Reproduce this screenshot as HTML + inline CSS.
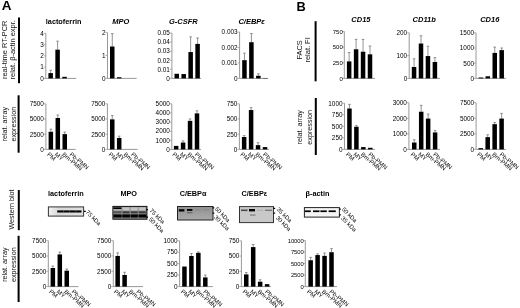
<!DOCTYPE html>
<html><head><meta charset="utf-8"><style>
html,body{margin:0;padding:0;background:#fff;}
body{width:520px;height:308px;overflow:hidden;}
svg{display:block;font-family:"Liberation Sans", sans-serif;}
</style></head><body>
<svg width="520" height="308" viewBox="0 0 520 308" font-family='"Liberation Sans", sans-serif'>
<defs><filter id="soft" x="0" y="0" width="520" height="308" filterUnits="userSpaceOnUse"><feGaussianBlur stdDeviation="0.35"/></filter></defs>
<rect width="520" height="308" fill="#fff"/>
<g filter="url(#soft)">
<rect width="520" height="308" fill="#fff"/>
<text x="1.8" y="10.3" font-size="13.5" font-weight="bold" fill="#000">A</text>
<text x="296.6" y="10.6" font-size="12.8" font-weight="bold" fill="#000">B</text>
<text x="0" y="0" font-size="7.45" fill="#111" text-anchor="middle" transform="translate(7.4 49.8) rotate(-90)">real-time RT-PCR</text>
<text x="0" y="0" font-size="7.45" fill="#111" text-anchor="middle" transform="translate(15.1 49.8) rotate(-90)">relat. β-actin expr.</text>
<rect x="18" y="17.5" width="2" height="65.7" fill="#000"/>
<text x="0" y="0" font-size="7.2" fill="#111" text-anchor="middle" transform="translate(6.6 124.2) rotate(-90)">relat. array</text>
<text x="0" y="0" font-size="7.2" fill="#111" text-anchor="middle" transform="translate(15.8 124.2) rotate(-90)">expression</text>
<rect x="17.6" y="95.3" width="2" height="57.4" fill="#000"/>
<text x="0" y="0" font-size="7.2" fill="#111" text-anchor="middle" transform="translate(13.6 209.5) rotate(-90)">Western blot</text>
<rect x="17.8" y="190" width="2" height="40.2" fill="#000"/>
<text x="0" y="0" font-size="7.2" fill="#111" text-anchor="middle" transform="translate(6.7 264.7) rotate(-90)">relat. array</text>
<text x="0" y="0" font-size="7.2" fill="#111" text-anchor="middle" transform="translate(15.8 264.7) rotate(-90)">expression</text>
<rect x="17.6" y="235.8" width="2" height="66.2" fill="#000"/>
<text x="0" y="0" font-size="7.45" fill="#111" text-anchor="middle" transform="translate(301.9 49.9) rotate(-90)">FACS</text>
<text x="0" y="0" font-size="7.45" fill="#111" text-anchor="middle" transform="translate(309.9 49.9) rotate(-90)">relat. FI</text>
<rect x="314.6" y="21.2" width="2" height="60.1" fill="#000"/>
<text x="0" y="0" font-size="7.2" fill="#111" text-anchor="middle" transform="translate(302.4 127.3) rotate(-90)">relat. array</text>
<text x="0" y="0" font-size="7.2" fill="#111" text-anchor="middle" transform="translate(312.1 127.3) rotate(-90)">expression</text>
<rect x="314.8" y="98" width="2" height="57" fill="#000"/>
<text x="45.8" y="24" font-size="7.3" font-weight="bold" fill="#000">lactoferrin</text>
<text x="112.2" y="24" font-size="7.5" font-weight="bold" font-style="italic" fill="#000">MPO</text>
<text x="169" y="23.8" font-size="7.5" font-weight="bold" font-style="italic" fill="#000">G-CSFR</text>
<text x="238.4" y="24" font-size="7.5" font-weight="bold" font-style="italic" fill="#000">C/EBPε</text>
<text x="351.3" y="22" font-size="7.5" font-weight="bold" font-style="italic" fill="#000">CD15</text>
<text x="412.6" y="22" font-size="7.5" font-weight="bold" font-style="italic" fill="#000">CD11b</text>
<text x="480.2" y="22" font-size="7.5" font-weight="bold" font-style="italic" fill="#000">CD16</text>
<line x1="45.8" y1="33.3" x2="45.8" y2="78.4" stroke="#999" stroke-width="1"/>
<line x1="45.8" y1="78.4" x2="76.2" y2="78.4" stroke="#999" stroke-width="1"/>
<line x1="43.8" y1="78.4" x2="45.8" y2="78.4" stroke="#999" stroke-width="0.8"/>
<text x="43.8" y="80.7" text-anchor="end" font-size="6.4" fill="#000">0</text>
<line x1="43.8" y1="67.12" x2="45.8" y2="67.12" stroke="#999" stroke-width="0.8"/>
<text x="43.8" y="69.42" text-anchor="end" font-size="6.4" fill="#000">1</text>
<line x1="43.8" y1="55.85" x2="45.8" y2="55.85" stroke="#999" stroke-width="0.8"/>
<text x="43.8" y="58.15" text-anchor="end" font-size="6.4" fill="#000">2</text>
<line x1="43.8" y1="44.58" x2="45.8" y2="44.58" stroke="#999" stroke-width="0.8"/>
<text x="43.8" y="46.88" text-anchor="end" font-size="6.4" fill="#000">3</text>
<line x1="43.8" y1="33.3" x2="45.8" y2="33.3" stroke="#999" stroke-width="0.8"/>
<text x="43.8" y="35.6" text-anchor="end" font-size="6.4" fill="#000">4</text>
<line x1="50.65" y1="70.28" x2="50.65" y2="73.1" stroke="#777" stroke-width="0.8"/>
<line x1="49.35" y1="70.28" x2="51.95" y2="70.28" stroke="#777" stroke-width="0.8"/>
<rect x="48.4" y="73.1" width="4.5" height="5.3" fill="#000"/>
<line x1="57.6" y1="41.19" x2="57.6" y2="49.65" stroke="#777" stroke-width="0.8"/>
<line x1="56.3" y1="41.19" x2="58.9" y2="41.19" stroke="#777" stroke-width="0.8"/>
<rect x="55.35" y="49.65" width="4.5" height="28.75" fill="#000"/>
<rect x="62.3" y="76.82" width="4.5" height="1.58" fill="#000"/>
<rect x="69.25" y="78.4" width="4.5" height="0" fill="#000"/>
<line x1="107.5" y1="32.5" x2="107.5" y2="78.4" stroke="#999" stroke-width="1"/>
<line x1="107.5" y1="78.4" x2="136.7" y2="78.4" stroke="#999" stroke-width="1"/>
<line x1="105.5" y1="78.4" x2="107.5" y2="78.4" stroke="#999" stroke-width="0.8"/>
<text x="105.5" y="80.7" text-anchor="end" font-size="6.4" fill="#000">0</text>
<line x1="105.5" y1="55.45" x2="107.5" y2="55.45" stroke="#999" stroke-width="0.8"/>
<text x="105.5" y="57.75" text-anchor="end" font-size="6.4" fill="#000">1</text>
<line x1="105.5" y1="32.5" x2="107.5" y2="32.5" stroke="#999" stroke-width="0.8"/>
<text x="105.5" y="34.8" text-anchor="end" font-size="6.4" fill="#000">2</text>
<line x1="112.25" y1="33.65" x2="112.25" y2="46.5" stroke="#777" stroke-width="0.8"/>
<line x1="110.95" y1="33.65" x2="113.55" y2="33.65" stroke="#777" stroke-width="0.8"/>
<rect x="110" y="46.5" width="4.5" height="31.9" fill="#000"/>
<rect x="116.95" y="77.25" width="4.5" height="1.15" fill="#000"/>
<line x1="171.9" y1="33" x2="171.9" y2="78.4" stroke="#999" stroke-width="1"/>
<line x1="171.9" y1="78.4" x2="201" y2="78.4" stroke="#999" stroke-width="1"/>
<line x1="169.9" y1="78.4" x2="171.9" y2="78.4" stroke="#999" stroke-width="0.8"/>
<text x="169.9" y="80.7" text-anchor="end" font-size="6.4" fill="#000">0</text>
<line x1="169.9" y1="69.32" x2="171.9" y2="69.32" stroke="#999" stroke-width="0.8"/>
<text x="169.9" y="71.62" text-anchor="end" font-size="6.4" fill="#000">0.01</text>
<line x1="169.9" y1="60.24" x2="171.9" y2="60.24" stroke="#999" stroke-width="0.8"/>
<text x="169.9" y="62.54" text-anchor="end" font-size="6.4" fill="#000">0.02</text>
<line x1="169.9" y1="51.16" x2="171.9" y2="51.16" stroke="#999" stroke-width="0.8"/>
<text x="169.9" y="53.46" text-anchor="end" font-size="6.4" fill="#000">0.03</text>
<line x1="169.9" y1="42.08" x2="171.9" y2="42.08" stroke="#999" stroke-width="0.8"/>
<text x="169.9" y="44.38" text-anchor="end" font-size="6.4" fill="#000">0.04</text>
<line x1="169.9" y1="33" x2="171.9" y2="33" stroke="#999" stroke-width="0.8"/>
<text x="169.9" y="35.3" text-anchor="end" font-size="6.4" fill="#000">0.05</text>
<rect x="174.5" y="73.77" width="4.5" height="4.63" fill="#000"/>
<rect x="181.45" y="74.04" width="4.5" height="4.36" fill="#000"/>
<line x1="190.65" y1="36.9" x2="190.65" y2="52.07" stroke="#777" stroke-width="0.8"/>
<line x1="189.35" y1="36.9" x2="191.95" y2="36.9" stroke="#777" stroke-width="0.8"/>
<rect x="188.4" y="52.07" width="4.5" height="26.33" fill="#000"/>
<line x1="197.6" y1="37.99" x2="197.6" y2="43.9" stroke="#777" stroke-width="0.8"/>
<line x1="196.3" y1="37.99" x2="198.9" y2="37.99" stroke="#777" stroke-width="0.8"/>
<rect x="195.35" y="43.9" width="4.5" height="34.5" fill="#000"/>
<line x1="239.6" y1="32" x2="239.6" y2="78.4" stroke="#999" stroke-width="1"/>
<line x1="239.6" y1="78.4" x2="268" y2="78.4" stroke="#999" stroke-width="1"/>
<line x1="237.6" y1="78.4" x2="239.6" y2="78.4" stroke="#999" stroke-width="0.8"/>
<text x="237.6" y="80.7" text-anchor="end" font-size="6.4" fill="#000">0</text>
<line x1="237.6" y1="62.93" x2="239.6" y2="62.93" stroke="#999" stroke-width="0.8"/>
<text x="237.6" y="65.23" text-anchor="end" font-size="6.4" fill="#000">0.001</text>
<line x1="237.6" y1="47.47" x2="239.6" y2="47.47" stroke="#999" stroke-width="0.8"/>
<text x="237.6" y="49.77" text-anchor="end" font-size="6.4" fill="#000">0.002</text>
<line x1="237.6" y1="32" x2="239.6" y2="32" stroke="#999" stroke-width="0.8"/>
<text x="237.6" y="34.3" text-anchor="end" font-size="6.4" fill="#000">0.003</text>
<line x1="244.45" y1="53.19" x2="244.45" y2="60.15" stroke="#777" stroke-width="0.8"/>
<line x1="243.15" y1="53.19" x2="245.75" y2="53.19" stroke="#777" stroke-width="0.8"/>
<rect x="242.2" y="60.15" width="4.5" height="18.25" fill="#000"/>
<line x1="251.4" y1="33.55" x2="251.4" y2="42.21" stroke="#777" stroke-width="0.8"/>
<line x1="250.1" y1="33.55" x2="252.7" y2="33.55" stroke="#777" stroke-width="0.8"/>
<rect x="249.15" y="42.21" width="4.5" height="36.19" fill="#000"/>
<line x1="258.35" y1="73.76" x2="258.35" y2="75.77" stroke="#777" stroke-width="0.8"/>
<line x1="257.05" y1="73.76" x2="259.65" y2="73.76" stroke="#777" stroke-width="0.8"/>
<rect x="256.1" y="75.77" width="4.5" height="2.63" fill="#000"/>
<rect x="263.05" y="78.09" width="4.5" height="0.31" fill="#000"/>
<line x1="344.3" y1="31.5" x2="344.3" y2="78.4" stroke="#999" stroke-width="1"/>
<line x1="344.3" y1="78.4" x2="375" y2="78.4" stroke="#999" stroke-width="1"/>
<line x1="342.3" y1="78.4" x2="344.3" y2="78.4" stroke="#999" stroke-width="0.8"/>
<text x="342.8" y="80.7" text-anchor="end" font-size="6.0" fill="#000">0</text>
<line x1="342.3" y1="62.77" x2="344.3" y2="62.77" stroke="#999" stroke-width="0.8"/>
<text x="342.8" y="65.07" text-anchor="end" font-size="6.0" fill="#000">250</text>
<line x1="342.3" y1="47.13" x2="344.3" y2="47.13" stroke="#999" stroke-width="0.8"/>
<text x="342.8" y="49.43" text-anchor="end" font-size="6.0" fill="#000">500</text>
<line x1="342.3" y1="31.5" x2="344.3" y2="31.5" stroke="#999" stroke-width="0.8"/>
<text x="342.8" y="33.8" text-anchor="end" font-size="6.0" fill="#000">750</text>
<line x1="349.15" y1="52.57" x2="349.15" y2="61.39" stroke="#777" stroke-width="0.8"/>
<line x1="347.85" y1="52.57" x2="350.45" y2="52.57" stroke="#777" stroke-width="0.8"/>
<rect x="346.9" y="61.39" width="4.5" height="17.01" fill="#000"/>
<line x1="356.1" y1="39.38" x2="356.1" y2="49.26" stroke="#777" stroke-width="0.8"/>
<line x1="354.8" y1="39.38" x2="357.4" y2="39.38" stroke="#777" stroke-width="0.8"/>
<rect x="353.85" y="49.26" width="4.5" height="29.14" fill="#000"/>
<line x1="363.05" y1="39.38" x2="363.05" y2="51.7" stroke="#777" stroke-width="0.8"/>
<line x1="361.75" y1="39.38" x2="364.35" y2="39.38" stroke="#777" stroke-width="0.8"/>
<rect x="360.8" y="51.7" width="4.5" height="26.7" fill="#000"/>
<line x1="370" y1="46.07" x2="370" y2="54.32" stroke="#777" stroke-width="0.8"/>
<line x1="368.7" y1="46.07" x2="371.3" y2="46.07" stroke="#777" stroke-width="0.8"/>
<rect x="367.75" y="54.32" width="4.5" height="24.08" fill="#000"/>
<line x1="409.2" y1="32.8" x2="409.2" y2="78.4" stroke="#999" stroke-width="1"/>
<line x1="409.2" y1="78.4" x2="440" y2="78.4" stroke="#999" stroke-width="1"/>
<line x1="407.2" y1="78.4" x2="409.2" y2="78.4" stroke="#999" stroke-width="0.8"/>
<text x="407.2" y="80.7" text-anchor="end" font-size="6.4" fill="#000">0</text>
<line x1="407.2" y1="55.6" x2="409.2" y2="55.6" stroke="#999" stroke-width="0.8"/>
<text x="407.2" y="57.9" text-anchor="end" font-size="6.4" fill="#000">100</text>
<line x1="407.2" y1="32.8" x2="409.2" y2="32.8" stroke="#999" stroke-width="0.8"/>
<text x="407.2" y="35.1" text-anchor="end" font-size="6.4" fill="#000">200</text>
<line x1="414.05" y1="58.79" x2="414.05" y2="67" stroke="#777" stroke-width="0.8"/>
<line x1="412.75" y1="58.79" x2="415.35" y2="58.79" stroke="#777" stroke-width="0.8"/>
<rect x="411.8" y="67" width="4.5" height="11.4" fill="#000"/>
<line x1="421" y1="35.76" x2="421" y2="43.52" stroke="#777" stroke-width="0.8"/>
<line x1="419.7" y1="35.76" x2="422.3" y2="35.76" stroke="#777" stroke-width="0.8"/>
<rect x="418.75" y="43.52" width="4.5" height="34.88" fill="#000"/>
<line x1="427.95" y1="46.25" x2="427.95" y2="56.06" stroke="#777" stroke-width="0.8"/>
<line x1="426.65" y1="46.25" x2="429.25" y2="46.25" stroke="#777" stroke-width="0.8"/>
<rect x="425.7" y="56.06" width="4.5" height="22.34" fill="#000"/>
<line x1="434.9" y1="57.65" x2="434.9" y2="61.98" stroke="#777" stroke-width="0.8"/>
<line x1="433.6" y1="57.65" x2="436.2" y2="57.65" stroke="#777" stroke-width="0.8"/>
<rect x="432.65" y="61.98" width="4.5" height="16.42" fill="#000"/>
<line x1="476" y1="32.8" x2="476" y2="78.4" stroke="#999" stroke-width="1"/>
<line x1="476" y1="78.4" x2="506" y2="78.4" stroke="#999" stroke-width="1"/>
<line x1="474" y1="78.4" x2="476" y2="78.4" stroke="#999" stroke-width="0.8"/>
<text x="474" y="80.7" text-anchor="end" font-size="6.4" fill="#000">0</text>
<line x1="474" y1="63.2" x2="476" y2="63.2" stroke="#999" stroke-width="0.8"/>
<text x="474" y="65.5" text-anchor="end" font-size="6.4" fill="#000">500</text>
<line x1="474" y1="48" x2="476" y2="48" stroke="#999" stroke-width="0.8"/>
<text x="474" y="50.3" text-anchor="end" font-size="6.4" fill="#000">1000</text>
<line x1="474" y1="32.8" x2="476" y2="32.8" stroke="#999" stroke-width="0.8"/>
<text x="474" y="35.1" text-anchor="end" font-size="6.4" fill="#000">1500</text>
<rect x="478.6" y="77.49" width="4.5" height="0.91" fill="#000"/>
<rect x="485.55" y="76.27" width="4.5" height="2.13" fill="#000"/>
<line x1="494.75" y1="47.09" x2="494.75" y2="52.92" stroke="#777" stroke-width="0.8"/>
<line x1="493.45" y1="47.09" x2="496.05" y2="47.09" stroke="#777" stroke-width="0.8"/>
<rect x="492.5" y="52.92" width="4.5" height="25.48" fill="#000"/>
<line x1="501.7" y1="48" x2="501.7" y2="50.13" stroke="#777" stroke-width="0.8"/>
<line x1="500.4" y1="48" x2="503" y2="48" stroke="#777" stroke-width="0.8"/>
<rect x="499.45" y="50.13" width="4.5" height="28.27" fill="#000"/>
<line x1="45.9" y1="103.8" x2="45.9" y2="149.4" stroke="#999" stroke-width="1"/>
<line x1="45.9" y1="149.4" x2="75.7" y2="149.4" stroke="#999" stroke-width="1"/>
<line x1="43.9" y1="149.4" x2="45.9" y2="149.4" stroke="#999" stroke-width="0.8"/>
<text x="43.9" y="151.7" text-anchor="end" font-size="6.4" fill="#000">0</text>
<line x1="43.9" y1="134.2" x2="45.9" y2="134.2" stroke="#999" stroke-width="0.8"/>
<text x="43.9" y="136.5" text-anchor="end" font-size="6.4" fill="#000">2500</text>
<line x1="43.9" y1="119" x2="45.9" y2="119" stroke="#999" stroke-width="0.8"/>
<text x="43.9" y="121.3" text-anchor="end" font-size="6.4" fill="#000">5000</text>
<line x1="43.9" y1="103.8" x2="45.9" y2="103.8" stroke="#999" stroke-width="0.8"/>
<text x="43.9" y="106.1" text-anchor="end" font-size="6.4" fill="#000">7500</text>
<line x1="50.85" y1="129.15" x2="50.85" y2="131.77" stroke="#777" stroke-width="0.8"/>
<line x1="49.55" y1="129.15" x2="52.15" y2="129.15" stroke="#777" stroke-width="0.8"/>
<rect x="48.6" y="131.77" width="4.5" height="17.63" fill="#000"/>
<line x1="57.8" y1="114.99" x2="57.8" y2="117.97" stroke="#777" stroke-width="0.8"/>
<line x1="56.5" y1="114.99" x2="59.1" y2="114.99" stroke="#777" stroke-width="0.8"/>
<rect x="55.55" y="117.97" width="4.5" height="31.43" fill="#000"/>
<line x1="64.75" y1="132.07" x2="64.75" y2="134.14" stroke="#777" stroke-width="0.8"/>
<line x1="63.45" y1="132.07" x2="66.05" y2="132.07" stroke="#777" stroke-width="0.8"/>
<rect x="62.5" y="134.14" width="4.5" height="15.26" fill="#000"/>
<rect x="69.45" y="149.4" width="4.5" height="0" fill="#000"/>
<text x="46.8" y="155.1" font-size="6.0" fill="#000" transform="rotate(40 46.8 155.1)">PM</text>
<text x="54.3" y="155.1" font-size="6.0" fill="#000" transform="rotate(40 54.3 155.1)">MY</text>
<text x="61.8" y="155.1" font-size="6.0" fill="#000" transform="rotate(40 61.8 155.1)">Bm-PMN</text>
<text x="69.3" y="155.1" font-size="6.0" fill="#000" transform="rotate(40 69.3 155.1)">Pb-PMN</text>
<line x1="107.4" y1="103.8" x2="107.4" y2="149.4" stroke="#999" stroke-width="1"/>
<line x1="107.4" y1="149.4" x2="137.6" y2="149.4" stroke="#999" stroke-width="1"/>
<line x1="105.4" y1="149.4" x2="107.4" y2="149.4" stroke="#999" stroke-width="0.8"/>
<text x="105.4" y="151.7" text-anchor="end" font-size="6.4" fill="#000">0</text>
<line x1="105.4" y1="134.2" x2="107.4" y2="134.2" stroke="#999" stroke-width="0.8"/>
<text x="105.4" y="136.5" text-anchor="end" font-size="6.4" fill="#000">2500</text>
<line x1="105.4" y1="119" x2="107.4" y2="119" stroke="#999" stroke-width="0.8"/>
<text x="105.4" y="121.3" text-anchor="end" font-size="6.4" fill="#000">5000</text>
<line x1="105.4" y1="103.8" x2="107.4" y2="103.8" stroke="#999" stroke-width="0.8"/>
<text x="105.4" y="106.1" text-anchor="end" font-size="6.4" fill="#000">7500</text>
<line x1="112.25" y1="115.6" x2="112.25" y2="119.36" stroke="#777" stroke-width="0.8"/>
<line x1="110.95" y1="115.6" x2="113.55" y2="115.6" stroke="#777" stroke-width="0.8"/>
<rect x="110" y="119.36" width="4.5" height="30.04" fill="#000"/>
<line x1="119.2" y1="136.15" x2="119.2" y2="137.97" stroke="#777" stroke-width="0.8"/>
<line x1="117.9" y1="136.15" x2="120.5" y2="136.15" stroke="#777" stroke-width="0.8"/>
<rect x="116.95" y="137.97" width="4.5" height="11.43" fill="#000"/>
<rect x="123.9" y="149.4" width="4.5" height="0" fill="#000"/>
<rect x="130.85" y="149.4" width="4.5" height="0" fill="#000"/>
<text x="108.2" y="155.1" font-size="6.0" fill="#000" transform="rotate(40 108.2 155.1)">PM</text>
<text x="115.7" y="155.1" font-size="6.0" fill="#000" transform="rotate(40 115.7 155.1)">MY</text>
<text x="123.2" y="155.1" font-size="6.0" fill="#000" transform="rotate(40 123.2 155.1)">Bm-PMN</text>
<text x="130.7" y="155.1" font-size="6.0" fill="#000" transform="rotate(40 130.7 155.1)">Pb-PMN</text>
<line x1="171.8" y1="103.8" x2="171.8" y2="149.4" stroke="#999" stroke-width="1"/>
<line x1="171.8" y1="149.4" x2="201" y2="149.4" stroke="#999" stroke-width="1"/>
<line x1="169.8" y1="149.4" x2="171.8" y2="149.4" stroke="#999" stroke-width="0.8"/>
<text x="169.8" y="151.7" text-anchor="end" font-size="6.4" fill="#000">0</text>
<line x1="169.8" y1="140.28" x2="171.8" y2="140.28" stroke="#999" stroke-width="0.8"/>
<text x="169.8" y="142.58" text-anchor="end" font-size="6.4" fill="#000">1000</text>
<line x1="169.8" y1="131.16" x2="171.8" y2="131.16" stroke="#999" stroke-width="0.8"/>
<text x="169.8" y="133.46" text-anchor="end" font-size="6.4" fill="#000">2000</text>
<line x1="169.8" y1="122.04" x2="171.8" y2="122.04" stroke="#999" stroke-width="0.8"/>
<text x="169.8" y="124.34" text-anchor="end" font-size="6.4" fill="#000">3000</text>
<line x1="169.8" y1="112.92" x2="171.8" y2="112.92" stroke="#999" stroke-width="0.8"/>
<text x="169.8" y="115.22" text-anchor="end" font-size="6.4" fill="#000">4000</text>
<line x1="169.8" y1="103.8" x2="171.8" y2="103.8" stroke="#999" stroke-width="0.8"/>
<text x="169.8" y="106.1" text-anchor="end" font-size="6.4" fill="#000">5000</text>
<rect x="173.9" y="145.89" width="4.5" height="3.51" fill="#000"/>
<line x1="183.1" y1="140.92" x2="183.1" y2="142.56" stroke="#777" stroke-width="0.8"/>
<line x1="181.8" y1="140.92" x2="184.4" y2="140.92" stroke="#777" stroke-width="0.8"/>
<rect x="180.85" y="142.56" width="4.5" height="6.84" fill="#000"/>
<line x1="190.05" y1="118.94" x2="190.05" y2="120.85" stroke="#777" stroke-width="0.8"/>
<line x1="188.75" y1="118.94" x2="191.35" y2="118.94" stroke="#777" stroke-width="0.8"/>
<rect x="187.8" y="120.85" width="4.5" height="28.55" fill="#000"/>
<line x1="197" y1="110.82" x2="197" y2="113.38" stroke="#777" stroke-width="0.8"/>
<line x1="195.7" y1="110.82" x2="198.3" y2="110.82" stroke="#777" stroke-width="0.8"/>
<rect x="194.75" y="113.38" width="4.5" height="36.02" fill="#000"/>
<text x="172.1" y="155.1" font-size="6.0" fill="#000" transform="rotate(40 172.1 155.1)">PM</text>
<text x="179.6" y="155.1" font-size="6.0" fill="#000" transform="rotate(40 179.6 155.1)">MY</text>
<text x="187.1" y="155.1" font-size="6.0" fill="#000" transform="rotate(40 187.1 155.1)">Bm-PMN</text>
<text x="194.6" y="155.1" font-size="6.0" fill="#000" transform="rotate(40 194.6 155.1)">Pb-PMN</text>
<line x1="239.4" y1="103.8" x2="239.4" y2="149.4" stroke="#999" stroke-width="1"/>
<line x1="239.4" y1="149.4" x2="269" y2="149.4" stroke="#999" stroke-width="1"/>
<line x1="237.4" y1="149.4" x2="239.4" y2="149.4" stroke="#999" stroke-width="0.8"/>
<text x="237.4" y="151.7" text-anchor="end" font-size="6.4" fill="#000">0</text>
<line x1="237.4" y1="134.2" x2="239.4" y2="134.2" stroke="#999" stroke-width="0.8"/>
<text x="237.4" y="136.5" text-anchor="end" font-size="6.4" fill="#000">250</text>
<line x1="237.4" y1="119" x2="239.4" y2="119" stroke="#999" stroke-width="0.8"/>
<text x="237.4" y="121.3" text-anchor="end" font-size="6.4" fill="#000">500</text>
<line x1="237.4" y1="103.8" x2="239.4" y2="103.8" stroke="#999" stroke-width="0.8"/>
<text x="237.4" y="106.1" text-anchor="end" font-size="6.4" fill="#000">750</text>
<line x1="244.15" y1="135.6" x2="244.15" y2="137" stroke="#777" stroke-width="0.8"/>
<line x1="242.85" y1="135.6" x2="245.45" y2="135.6" stroke="#777" stroke-width="0.8"/>
<rect x="241.9" y="137" width="4.5" height="12.4" fill="#000"/>
<line x1="251.1" y1="107.63" x2="251.1" y2="110.06" stroke="#777" stroke-width="0.8"/>
<line x1="249.8" y1="107.63" x2="252.4" y2="107.63" stroke="#777" stroke-width="0.8"/>
<rect x="248.85" y="110.06" width="4.5" height="39.34" fill="#000"/>
<line x1="258.05" y1="142.71" x2="258.05" y2="145.14" stroke="#777" stroke-width="0.8"/>
<line x1="256.75" y1="142.71" x2="259.35" y2="142.71" stroke="#777" stroke-width="0.8"/>
<rect x="255.8" y="145.14" width="4.5" height="4.26" fill="#000"/>
<rect x="262.75" y="147.09" width="4.5" height="2.31" fill="#000"/>
<text x="240.1" y="155.1" font-size="6.0" fill="#000" transform="rotate(40 240.1 155.1)">PM</text>
<text x="247.6" y="155.1" font-size="6.0" fill="#000" transform="rotate(40 247.6 155.1)">MY</text>
<text x="255.1" y="155.1" font-size="6.0" fill="#000" transform="rotate(40 255.1 155.1)">Bm-PMN</text>
<text x="262.6" y="155.1" font-size="6.0" fill="#000" transform="rotate(40 262.6 155.1)">Pb-PMN</text>
<line x1="344.5" y1="103.2" x2="344.5" y2="149.4" stroke="#999" stroke-width="1"/>
<line x1="344.5" y1="149.4" x2="375" y2="149.4" stroke="#999" stroke-width="1"/>
<line x1="342.5" y1="149.4" x2="344.5" y2="149.4" stroke="#999" stroke-width="0.8"/>
<text x="342.5" y="151.7" text-anchor="end" font-size="6.4" fill="#000">0</text>
<line x1="342.5" y1="137.85" x2="344.5" y2="137.85" stroke="#999" stroke-width="0.8"/>
<text x="342.5" y="140.15" text-anchor="end" font-size="6.4" fill="#000">250</text>
<line x1="342.5" y1="126.3" x2="344.5" y2="126.3" stroke="#999" stroke-width="0.8"/>
<text x="342.5" y="128.6" text-anchor="end" font-size="6.4" fill="#000">500</text>
<line x1="342.5" y1="114.75" x2="344.5" y2="114.75" stroke="#999" stroke-width="0.8"/>
<text x="342.5" y="117.05" text-anchor="end" font-size="6.4" fill="#000">750</text>
<line x1="342.5" y1="103.2" x2="344.5" y2="103.2" stroke="#999" stroke-width="0.8"/>
<text x="342.5" y="105.5" text-anchor="end" font-size="6.4" fill="#000">1000</text>
<line x1="349.45" y1="104.36" x2="349.45" y2="108.51" stroke="#777" stroke-width="0.8"/>
<line x1="348.15" y1="104.36" x2="350.75" y2="104.36" stroke="#777" stroke-width="0.8"/>
<rect x="347.2" y="108.51" width="4.5" height="40.89" fill="#000"/>
<line x1="356.4" y1="125.61" x2="356.4" y2="126.76" stroke="#777" stroke-width="0.8"/>
<line x1="355.1" y1="125.61" x2="357.7" y2="125.61" stroke="#777" stroke-width="0.8"/>
<rect x="354.15" y="126.76" width="4.5" height="22.64" fill="#000"/>
<rect x="361.1" y="147.09" width="4.5" height="2.31" fill="#000"/>
<rect x="368.05" y="147.78" width="4.5" height="1.62" fill="#000"/>
<text x="345.4" y="155.1" font-size="6.0" fill="#000" transform="rotate(40 345.4 155.1)">PM</text>
<text x="352.9" y="155.1" font-size="6.0" fill="#000" transform="rotate(40 352.9 155.1)">MY</text>
<text x="360.4" y="155.1" font-size="6.0" fill="#000" transform="rotate(40 360.4 155.1)">Bm-PMN</text>
<text x="367.9" y="155.1" font-size="6.0" fill="#000" transform="rotate(40 367.9 155.1)">Pb-PMN</text>
<line x1="408.9" y1="102.7" x2="408.9" y2="149.4" stroke="#999" stroke-width="1"/>
<line x1="408.9" y1="149.4" x2="440" y2="149.4" stroke="#999" stroke-width="1"/>
<line x1="406.9" y1="149.4" x2="408.9" y2="149.4" stroke="#999" stroke-width="0.8"/>
<text x="406.9" y="151.7" text-anchor="end" font-size="6.4" fill="#000">0</text>
<line x1="406.9" y1="133.83" x2="408.9" y2="133.83" stroke="#999" stroke-width="0.8"/>
<text x="406.9" y="136.13" text-anchor="end" font-size="6.4" fill="#000">1000</text>
<line x1="406.9" y1="118.27" x2="408.9" y2="118.27" stroke="#999" stroke-width="0.8"/>
<text x="406.9" y="120.57" text-anchor="end" font-size="6.4" fill="#000">2000</text>
<line x1="406.9" y1="102.7" x2="408.9" y2="102.7" stroke="#999" stroke-width="0.8"/>
<text x="406.9" y="105" text-anchor="end" font-size="6.4" fill="#000">3000</text>
<line x1="414.25" y1="139.75" x2="414.25" y2="142.55" stroke="#777" stroke-width="0.8"/>
<line x1="412.95" y1="139.75" x2="415.55" y2="139.75" stroke="#777" stroke-width="0.8"/>
<rect x="412" y="142.55" width="4.5" height="6.85" fill="#000"/>
<line x1="421.2" y1="105.35" x2="421.2" y2="111.73" stroke="#777" stroke-width="0.8"/>
<line x1="419.9" y1="105.35" x2="422.5" y2="105.35" stroke="#777" stroke-width="0.8"/>
<rect x="418.95" y="111.73" width="4.5" height="37.67" fill="#000"/>
<line x1="428.15" y1="114.06" x2="428.15" y2="118.58" stroke="#777" stroke-width="0.8"/>
<line x1="426.85" y1="114.06" x2="429.45" y2="114.06" stroke="#777" stroke-width="0.8"/>
<rect x="425.9" y="118.58" width="4.5" height="30.82" fill="#000"/>
<line x1="435.1" y1="130.56" x2="435.1" y2="132.43" stroke="#777" stroke-width="0.8"/>
<line x1="433.8" y1="130.56" x2="436.4" y2="130.56" stroke="#777" stroke-width="0.8"/>
<rect x="432.85" y="132.43" width="4.5" height="16.97" fill="#000"/>
<text x="410.2" y="155.1" font-size="6.0" fill="#000" transform="rotate(40 410.2 155.1)">PM</text>
<text x="417.7" y="155.1" font-size="6.0" fill="#000" transform="rotate(40 417.7 155.1)">MY</text>
<text x="425.2" y="155.1" font-size="6.0" fill="#000" transform="rotate(40 425.2 155.1)">Bm-PMN</text>
<text x="432.7" y="155.1" font-size="6.0" fill="#000" transform="rotate(40 432.7 155.1)">Pb-PMN</text>
<line x1="476.1" y1="102.7" x2="476.1" y2="149.4" stroke="#999" stroke-width="1"/>
<line x1="476.1" y1="149.4" x2="506" y2="149.4" stroke="#999" stroke-width="1"/>
<line x1="474.1" y1="149.4" x2="476.1" y2="149.4" stroke="#999" stroke-width="0.8"/>
<text x="474.1" y="151.7" text-anchor="end" font-size="6.4" fill="#000">0</text>
<line x1="474.1" y1="133.83" x2="476.1" y2="133.83" stroke="#999" stroke-width="0.8"/>
<text x="474.1" y="136.13" text-anchor="end" font-size="6.4" fill="#000">2500</text>
<line x1="474.1" y1="118.27" x2="476.1" y2="118.27" stroke="#999" stroke-width="0.8"/>
<text x="474.1" y="120.57" text-anchor="end" font-size="6.4" fill="#000">5000</text>
<line x1="474.1" y1="102.7" x2="476.1" y2="102.7" stroke="#999" stroke-width="0.8"/>
<text x="474.1" y="105" text-anchor="end" font-size="6.4" fill="#000">7500</text>
<rect x="478.5" y="148.15" width="4.5" height="1.25" fill="#000"/>
<line x1="487.7" y1="134.77" x2="487.7" y2="137.13" stroke="#777" stroke-width="0.8"/>
<line x1="486.4" y1="134.77" x2="489" y2="134.77" stroke="#777" stroke-width="0.8"/>
<rect x="485.45" y="137.13" width="4.5" height="12.27" fill="#000"/>
<line x1="494.65" y1="122.44" x2="494.65" y2="124.18" stroke="#777" stroke-width="0.8"/>
<line x1="493.35" y1="122.44" x2="495.95" y2="122.44" stroke="#777" stroke-width="0.8"/>
<rect x="492.4" y="124.18" width="4.5" height="25.22" fill="#000"/>
<line x1="501.6" y1="113.41" x2="501.6" y2="118.58" stroke="#777" stroke-width="0.8"/>
<line x1="500.3" y1="113.41" x2="502.9" y2="113.41" stroke="#777" stroke-width="0.8"/>
<rect x="499.35" y="118.58" width="4.5" height="30.82" fill="#000"/>
<text x="476.7" y="155.1" font-size="6.0" fill="#000" transform="rotate(40 476.7 155.1)">PM</text>
<text x="484.2" y="155.1" font-size="6.0" fill="#000" transform="rotate(40 484.2 155.1)">MY</text>
<text x="491.7" y="155.1" font-size="6.0" fill="#000" transform="rotate(40 491.7 155.1)">Bm-PMN</text>
<text x="499.2" y="155.1" font-size="6.0" fill="#000" transform="rotate(40 499.2 155.1)">Pb-PMN</text>
<text x="48" y="195.8" font-size="7.3" font-weight="bold" fill="#000">lactoferrin</text>
<text x="120.4" y="195.8" font-size="7.3" font-weight="bold" fill="#000">MPO</text>
<text x="179.7" y="195.8" font-size="7.3" font-weight="bold" fill="#000">C/EBPα</text>
<text x="241.5" y="195.8" font-size="7.3" font-weight="bold" fill="#000">C/EBPε</text>
<text x="305.5" y="195.8" font-size="7.3" font-weight="bold" fill="#000">β-actin</text>
<defs><linearGradient id="lg1" x1="0" x2="1" y1="0" y2="0"><stop offset="0" stop-color="#f2f2f2"/><stop offset="0.3" stop-color="#d8d8d8"/><stop offset="1" stop-color="#e0e0e0"/></linearGradient><linearGradient id="lg2" x1="0" x2="0" y1="0" y2="1"><stop offset="0" stop-color="#909090"/><stop offset="0.45" stop-color="#9c9c9c"/><stop offset="1" stop-color="#ababab"/></linearGradient><filter id="bl" x="-0.2" y="-0.5" width="1.4" height="2"><feGaussianBlur stdDeviation="0.45"/></filter></defs>
<rect x="48.4" y="206.9" width="35.2" height="9.2" fill="url(#lg1)" stroke="#333" stroke-width="1"/>
<g filter="url(#bl)">
<rect x="57.2" y="210.4" width="24.3" height="2.1" fill="#000"/>
<rect x="63.3" y="210.4" width="0.5" height="2.1" fill="#777"/>
<rect x="69.5" y="210.4" width="0.5" height="2.1" fill="#777"/>
<rect x="75.6" y="210.4" width="0.5" height="2.1" fill="#777"/>
</g>
<line x1="84" y1="211.4" x2="85.8" y2="211.4" stroke="#000" stroke-width="1.2"/>
<text x="85.4" y="212.6" font-size="5.9" fill="#000" transform="rotate(45 85.4 212.6)">75 kDa</text>
<rect x="112.9" y="206.4" width="34" height="12.8" fill="#8a8a8a" stroke="#111" stroke-width="1"/>
<g filter="url(#bl)">
<rect x="113.5" y="207.4" width="8" height="1.6" fill="#000"/>
<rect x="113.5" y="209.1" width="8" height="1.6" fill="#b0b0b0"/>
<rect x="113.5" y="211.2" width="8" height="2" fill="#555"/>
<rect x="122.4" y="207.3" width="7.2" height="3.3" fill="#c2c2c2"/>
<rect x="122.4" y="211.3" width="7.2" height="2" fill="#3c3c3c"/>
<rect x="130.6" y="207.3" width="7.2" height="3.3" fill="#c2c2c2"/>
<rect x="130.6" y="211.3" width="7.2" height="2" fill="#3c3c3c"/>
<rect x="138.5" y="207.3" width="7.2" height="3.3" fill="#c2c2c2"/>
<rect x="138.5" y="211.3" width="7.2" height="2" fill="#3c3c3c"/>
<rect x="113.5" y="214.4" width="32.8" height="3.2" fill="#000"/>
<rect x="113.5" y="217.8" width="32.8" height="1" fill="#666"/>
<rect x="121.6" y="207" width="0.7" height="11.5" fill="#9a9a9a" opacity="0.7"/>
<rect x="129.9" y="207" width="0.7" height="11.5" fill="#9a9a9a" opacity="0.7"/>
<rect x="137.8" y="207" width="0.7" height="11.5" fill="#9a9a9a" opacity="0.7"/>
</g>
<line x1="146.2" y1="209.7" x2="148" y2="209.7" stroke="#000" stroke-width="1.2"/>
<text x="149.2" y="210.9" font-size="5.9" fill="#000" transform="rotate(45 149.2 210.9)">75 kDa</text>
<line x1="146.2" y1="217.2" x2="148" y2="217.2" stroke="#000" stroke-width="1.2"/>
<text x="148.4" y="219.8" font-size="5.9" fill="#000" transform="rotate(45 148.4 219.8)">50 kDa</text>
<rect x="177.5" y="206.5" width="35.5" height="13.5" fill="url(#lg2)" stroke="#222" stroke-width="1"/>
<g filter="url(#bl)">
<rect x="178.8" y="209.2" width="5.6" height="2.3" fill="#000"/>
<rect x="187" y="209" width="5.4" height="1.9" fill="#050505"/>
<rect x="187" y="212" width="5.4" height="1.3" fill="#6a6a6a"/>
<rect x="195" y="209.3" width="6" height="1.4" fill="#8a8a8a"/>
<rect x="203.5" y="209.3" width="6.5" height="1.4" fill="#8a8a8a"/>
</g>
<line x1="212.5" y1="207.9" x2="214.3" y2="207.9" stroke="#000" stroke-width="1.2"/>
<text x="214.4" y="209.3" font-size="5.9" fill="#000" transform="rotate(45 214.4 209.3)">50 kDa</text>
<line x1="212.5" y1="213.1" x2="214.3" y2="213.1" stroke="#000" stroke-width="1.2"/>
<text x="213.8" y="217.7" font-size="5.9" fill="#000" transform="rotate(45 213.8 217.7)">30 kDa</text>
<rect x="239.5" y="206.6" width="34" height="16" fill="#c8c8c8" stroke="#333" stroke-width="1"/>
<g filter="url(#bl)">
<rect x="241" y="209.5" width="6.5" height="1.6" fill="#4a4a4a"/>
<rect x="249" y="209" width="6" height="2.4" fill="#000"/>
<rect x="257" y="209.7" width="6" height="1.2" fill="#b0b0b0"/>
<rect x="265" y="209.6" width="7" height="1.4" fill="#7a7a7a"/>
<rect x="250" y="214.3" width="5.5" height="1.5" fill="#8a8a8a"/>
</g>
<line x1="273.4" y1="208.4" x2="275.2" y2="208.4" stroke="#000" stroke-width="1.2"/>
<text x="276.3" y="209.7" font-size="5.9" fill="#000" transform="rotate(45 276.3 209.7)">35 kDa</text>
<line x1="273.4" y1="213.1" x2="275.2" y2="213.1" stroke="#000" stroke-width="1.2"/>
<text x="275.4" y="218.2" font-size="5.9" fill="#000" transform="rotate(45 275.4 218.2)">30 kDa</text>
<rect x="304.4" y="207.6" width="35" height="9.5" fill="#f4f4f4" stroke="#222" stroke-width="1"/>
<g filter="url(#bl)">
<rect x="304.9" y="210.4" width="5.9" height="1.7" fill="#000"/>
<rect x="313" y="210.4" width="6.5" height="1.7" fill="#000"/>
<rect x="320.4" y="210.4" width="6.4" height="1.7" fill="#000"/>
<rect x="328.6" y="210.4" width="7.2" height="1.7" fill="#000"/>
</g>
<line x1="339" y1="209.1" x2="340.8" y2="209.1" stroke="#000" stroke-width="1.2"/>
<text x="341.4" y="209.7" font-size="5.9" fill="#000" transform="rotate(45 341.4 209.7)">50 kDa</text>
<line x1="339" y1="214.8" x2="340.8" y2="214.8" stroke="#000" stroke-width="1.2"/>
<text x="340.8" y="218.8" font-size="5.9" fill="#000" transform="rotate(45 340.8 218.8)">35 kDa</text>
<line x1="48.3" y1="240.7" x2="48.3" y2="286.6" stroke="#999" stroke-width="1"/>
<line x1="48.3" y1="286.6" x2="78.4" y2="286.6" stroke="#999" stroke-width="1"/>
<line x1="46.3" y1="286.6" x2="48.3" y2="286.6" stroke="#999" stroke-width="0.8"/>
<text x="46.3" y="288.9" text-anchor="end" font-size="6.4" fill="#000">0</text>
<line x1="46.3" y1="271.3" x2="48.3" y2="271.3" stroke="#999" stroke-width="0.8"/>
<text x="46.3" y="273.6" text-anchor="end" font-size="6.4" fill="#000">2500</text>
<line x1="46.3" y1="256" x2="48.3" y2="256" stroke="#999" stroke-width="0.8"/>
<text x="46.3" y="258.3" text-anchor="end" font-size="6.4" fill="#000">5000</text>
<line x1="46.3" y1="240.7" x2="48.3" y2="240.7" stroke="#999" stroke-width="0.8"/>
<text x="46.3" y="243" text-anchor="end" font-size="6.4" fill="#000">7500</text>
<line x1="52.85" y1="266.1" x2="52.85" y2="268" stroke="#777" stroke-width="0.8"/>
<line x1="51.55" y1="266.1" x2="54.15" y2="266.1" stroke="#777" stroke-width="0.8"/>
<rect x="50.6" y="268" width="4.5" height="18.6" fill="#000"/>
<line x1="59.8" y1="252.08" x2="59.8" y2="254.41" stroke="#777" stroke-width="0.8"/>
<line x1="58.5" y1="252.08" x2="61.1" y2="252.08" stroke="#777" stroke-width="0.8"/>
<rect x="57.55" y="254.41" width="4.5" height="32.19" fill="#000"/>
<line x1="66.75" y1="269.04" x2="66.75" y2="270.69" stroke="#777" stroke-width="0.8"/>
<line x1="65.45" y1="269.04" x2="68.05" y2="269.04" stroke="#777" stroke-width="0.8"/>
<rect x="64.5" y="270.69" width="4.5" height="15.91" fill="#000"/>
<rect x="71.45" y="286.6" width="4.5" height="0" fill="#000"/>
<text x="48.8" y="292.3" font-size="6.0" fill="#000" transform="rotate(40 48.8 292.3)">PM</text>
<text x="56.3" y="292.3" font-size="6.0" fill="#000" transform="rotate(40 56.3 292.3)">MY</text>
<text x="63.8" y="292.3" font-size="6.0" fill="#000" transform="rotate(40 63.8 292.3)">Bm-PMN</text>
<text x="71.3" y="292.3" font-size="6.0" fill="#000" transform="rotate(40 71.3 292.3)">Pb-PMN</text>
<line x1="113.3" y1="240.6" x2="113.3" y2="286.6" stroke="#999" stroke-width="1"/>
<line x1="113.3" y1="286.6" x2="143" y2="286.6" stroke="#999" stroke-width="1"/>
<line x1="111.3" y1="286.6" x2="113.3" y2="286.6" stroke="#999" stroke-width="0.8"/>
<text x="111.3" y="288.9" text-anchor="end" font-size="6.4" fill="#000">0</text>
<line x1="111.3" y1="271.27" x2="113.3" y2="271.27" stroke="#999" stroke-width="0.8"/>
<text x="111.3" y="273.57" text-anchor="end" font-size="6.4" fill="#000">2500</text>
<line x1="111.3" y1="255.93" x2="113.3" y2="255.93" stroke="#999" stroke-width="0.8"/>
<text x="111.3" y="258.23" text-anchor="end" font-size="6.4" fill="#000">5000</text>
<line x1="111.3" y1="240.6" x2="113.3" y2="240.6" stroke="#999" stroke-width="0.8"/>
<text x="111.3" y="242.9" text-anchor="end" font-size="6.4" fill="#000">7500</text>
<line x1="117.65" y1="252.87" x2="117.65" y2="255.93" stroke="#777" stroke-width="0.8"/>
<line x1="116.35" y1="252.87" x2="118.95" y2="252.87" stroke="#777" stroke-width="0.8"/>
<rect x="115.4" y="255.93" width="4.5" height="30.67" fill="#000"/>
<line x1="124.6" y1="272.25" x2="124.6" y2="274.95" stroke="#777" stroke-width="0.8"/>
<line x1="123.3" y1="272.25" x2="125.9" y2="272.25" stroke="#777" stroke-width="0.8"/>
<rect x="122.35" y="274.95" width="4.5" height="11.65" fill="#000"/>
<rect x="129.3" y="286.6" width="4.5" height="0" fill="#000"/>
<rect x="136.25" y="286.6" width="4.5" height="0" fill="#000"/>
<text x="113.6" y="292.3" font-size="6.0" fill="#000" transform="rotate(40 113.6 292.3)">PM</text>
<text x="121.1" y="292.3" font-size="6.0" fill="#000" transform="rotate(40 121.1 292.3)">MY</text>
<text x="128.6" y="292.3" font-size="6.0" fill="#000" transform="rotate(40 128.6 292.3)">Bm-PMN</text>
<text x="136.1" y="292.3" font-size="6.0" fill="#000" transform="rotate(40 136.1 292.3)">Pb-PMN</text>
<line x1="179.6" y1="240.7" x2="179.6" y2="286.6" stroke="#999" stroke-width="1"/>
<line x1="179.6" y1="286.6" x2="213" y2="286.6" stroke="#999" stroke-width="1"/>
<line x1="177.6" y1="286.6" x2="179.6" y2="286.6" stroke="#999" stroke-width="0.8"/>
<text x="177.6" y="288.9" text-anchor="end" font-size="6.4" fill="#000">0</text>
<line x1="177.6" y1="275.12" x2="179.6" y2="275.12" stroke="#999" stroke-width="0.8"/>
<text x="177.6" y="277.43" text-anchor="end" font-size="6.4" fill="#000">250</text>
<line x1="177.6" y1="263.65" x2="179.6" y2="263.65" stroke="#999" stroke-width="0.8"/>
<text x="177.6" y="265.95" text-anchor="end" font-size="6.4" fill="#000">500</text>
<line x1="177.6" y1="252.18" x2="179.6" y2="252.18" stroke="#999" stroke-width="0.8"/>
<text x="177.6" y="254.48" text-anchor="end" font-size="6.4" fill="#000">750</text>
<line x1="177.6" y1="240.7" x2="179.6" y2="240.7" stroke="#999" stroke-width="0.8"/>
<text x="177.6" y="243" text-anchor="end" font-size="6.4" fill="#000">1000</text>
<rect x="182.2" y="266.54" width="4.5" height="20.06" fill="#000"/>
<line x1="191.4" y1="253.46" x2="191.4" y2="255.98" stroke="#777" stroke-width="0.8"/>
<line x1="190.1" y1="253.46" x2="192.7" y2="253.46" stroke="#777" stroke-width="0.8"/>
<rect x="189.15" y="255.98" width="4.5" height="30.62" fill="#000"/>
<line x1="198.35" y1="251.95" x2="198.35" y2="252.86" stroke="#777" stroke-width="0.8"/>
<line x1="197.05" y1="251.95" x2="199.65" y2="251.95" stroke="#777" stroke-width="0.8"/>
<rect x="196.1" y="252.86" width="4.5" height="33.74" fill="#000"/>
<line x1="205.3" y1="275.12" x2="205.3" y2="277.42" stroke="#777" stroke-width="0.8"/>
<line x1="204" y1="275.12" x2="206.6" y2="275.12" stroke="#777" stroke-width="0.8"/>
<rect x="203.05" y="277.42" width="4.5" height="9.18" fill="#000"/>
<text x="180.4" y="292.3" font-size="6.0" fill="#000" transform="rotate(40 180.4 292.3)">PM</text>
<text x="187.9" y="292.3" font-size="6.0" fill="#000" transform="rotate(40 187.9 292.3)">MY</text>
<text x="195.4" y="292.3" font-size="6.0" fill="#000" transform="rotate(40 195.4 292.3)">Bm-PMN</text>
<text x="202.9" y="292.3" font-size="6.0" fill="#000" transform="rotate(40 202.9 292.3)">Pb-PMN</text>
<line x1="241.4" y1="240.8" x2="241.4" y2="286.6" stroke="#999" stroke-width="1"/>
<line x1="241.4" y1="286.6" x2="271" y2="286.6" stroke="#999" stroke-width="1"/>
<line x1="239.4" y1="286.6" x2="241.4" y2="286.6" stroke="#999" stroke-width="0.8"/>
<text x="239.4" y="288.9" text-anchor="end" font-size="6.4" fill="#000">0</text>
<line x1="239.4" y1="271.33" x2="241.4" y2="271.33" stroke="#999" stroke-width="0.8"/>
<text x="239.4" y="273.63" text-anchor="end" font-size="6.4" fill="#000">250</text>
<line x1="239.4" y1="256.07" x2="241.4" y2="256.07" stroke="#999" stroke-width="0.8"/>
<text x="239.4" y="258.37" text-anchor="end" font-size="6.4" fill="#000">500</text>
<line x1="239.4" y1="240.8" x2="241.4" y2="240.8" stroke="#999" stroke-width="0.8"/>
<text x="239.4" y="243.1" text-anchor="end" font-size="6.4" fill="#000">750</text>
<line x1="246.25" y1="272.55" x2="246.25" y2="274.39" stroke="#777" stroke-width="0.8"/>
<line x1="244.95" y1="272.55" x2="247.55" y2="272.55" stroke="#777" stroke-width="0.8"/>
<rect x="244" y="274.39" width="4.5" height="12.21" fill="#000"/>
<line x1="253.2" y1="244.46" x2="253.2" y2="247.09" stroke="#777" stroke-width="0.8"/>
<line x1="251.9" y1="244.46" x2="254.5" y2="244.46" stroke="#777" stroke-width="0.8"/>
<rect x="250.95" y="247.09" width="4.5" height="39.51" fill="#000"/>
<line x1="260.15" y1="279.76" x2="260.15" y2="281.71" stroke="#777" stroke-width="0.8"/>
<line x1="258.85" y1="279.76" x2="261.45" y2="279.76" stroke="#777" stroke-width="0.8"/>
<rect x="257.9" y="281.71" width="4.5" height="4.89" fill="#000"/>
<rect x="264.85" y="284.16" width="4.5" height="2.44" fill="#000"/>
<text x="242.2" y="292.3" font-size="6.0" fill="#000" transform="rotate(40 242.2 292.3)">PM</text>
<text x="249.7" y="292.3" font-size="6.0" fill="#000" transform="rotate(40 249.7 292.3)">MY</text>
<text x="257.2" y="292.3" font-size="6.0" fill="#000" transform="rotate(40 257.2 292.3)">Bm-PMN</text>
<text x="264.7" y="292.3" font-size="6.0" fill="#000" transform="rotate(40 264.7 292.3)">Pb-PMN</text>
<line x1="305.3" y1="240.5" x2="305.3" y2="286.6" stroke="#999" stroke-width="1"/>
<line x1="305.3" y1="286.6" x2="337" y2="286.6" stroke="#999" stroke-width="1"/>
<line x1="303.3" y1="286.6" x2="305.3" y2="286.6" stroke="#999" stroke-width="0.8"/>
<text x="303.8" y="288.9" text-anchor="end" font-size="5.8" fill="#000">0</text>
<line x1="303.3" y1="275.08" x2="305.3" y2="275.08" stroke="#999" stroke-width="0.8"/>
<text x="303.8" y="277.38" text-anchor="end" font-size="5.8" fill="#000">2500</text>
<line x1="303.3" y1="263.55" x2="305.3" y2="263.55" stroke="#999" stroke-width="0.8"/>
<text x="303.8" y="265.85" text-anchor="end" font-size="5.8" fill="#000">5000</text>
<line x1="303.3" y1="252.03" x2="305.3" y2="252.03" stroke="#999" stroke-width="0.8"/>
<text x="303.8" y="254.33" text-anchor="end" font-size="5.8" fill="#000">7500</text>
<line x1="303.3" y1="240.5" x2="305.3" y2="240.5" stroke="#999" stroke-width="0.8"/>
<text x="303.8" y="242.8" text-anchor="end" font-size="5.8" fill="#000">10000</text>
<line x1="310.65" y1="257.37" x2="310.65" y2="260.23" stroke="#777" stroke-width="0.8"/>
<line x1="309.35" y1="257.37" x2="311.95" y2="257.37" stroke="#777" stroke-width="0.8"/>
<rect x="308.4" y="260.23" width="4.5" height="26.37" fill="#000"/>
<line x1="317.6" y1="253.87" x2="317.6" y2="255.07" stroke="#777" stroke-width="0.8"/>
<line x1="316.3" y1="253.87" x2="318.9" y2="253.87" stroke="#777" stroke-width="0.8"/>
<rect x="315.35" y="255.07" width="4.5" height="31.53" fill="#000"/>
<line x1="324.55" y1="253.09" x2="324.55" y2="255.85" stroke="#777" stroke-width="0.8"/>
<line x1="323.25" y1="253.09" x2="325.85" y2="253.09" stroke="#777" stroke-width="0.8"/>
<rect x="322.3" y="255.85" width="4.5" height="30.75" fill="#000"/>
<line x1="331.5" y1="248.61" x2="331.5" y2="252.21" stroke="#777" stroke-width="0.8"/>
<line x1="330.2" y1="248.61" x2="332.8" y2="248.61" stroke="#777" stroke-width="0.8"/>
<rect x="329.25" y="252.21" width="4.5" height="34.39" fill="#000"/>
<text x="306.6" y="292.3" font-size="6.0" fill="#000" transform="rotate(40 306.6 292.3)">PM</text>
<text x="314.1" y="292.3" font-size="6.0" fill="#000" transform="rotate(40 314.1 292.3)">MY</text>
<text x="321.6" y="292.3" font-size="6.0" fill="#000" transform="rotate(40 321.6 292.3)">Bm-PMN</text>
<text x="329.1" y="292.3" font-size="6.0" fill="#000" transform="rotate(40 329.1 292.3)">Pb-PMN</text>
</g>
</svg>
</body></html>
